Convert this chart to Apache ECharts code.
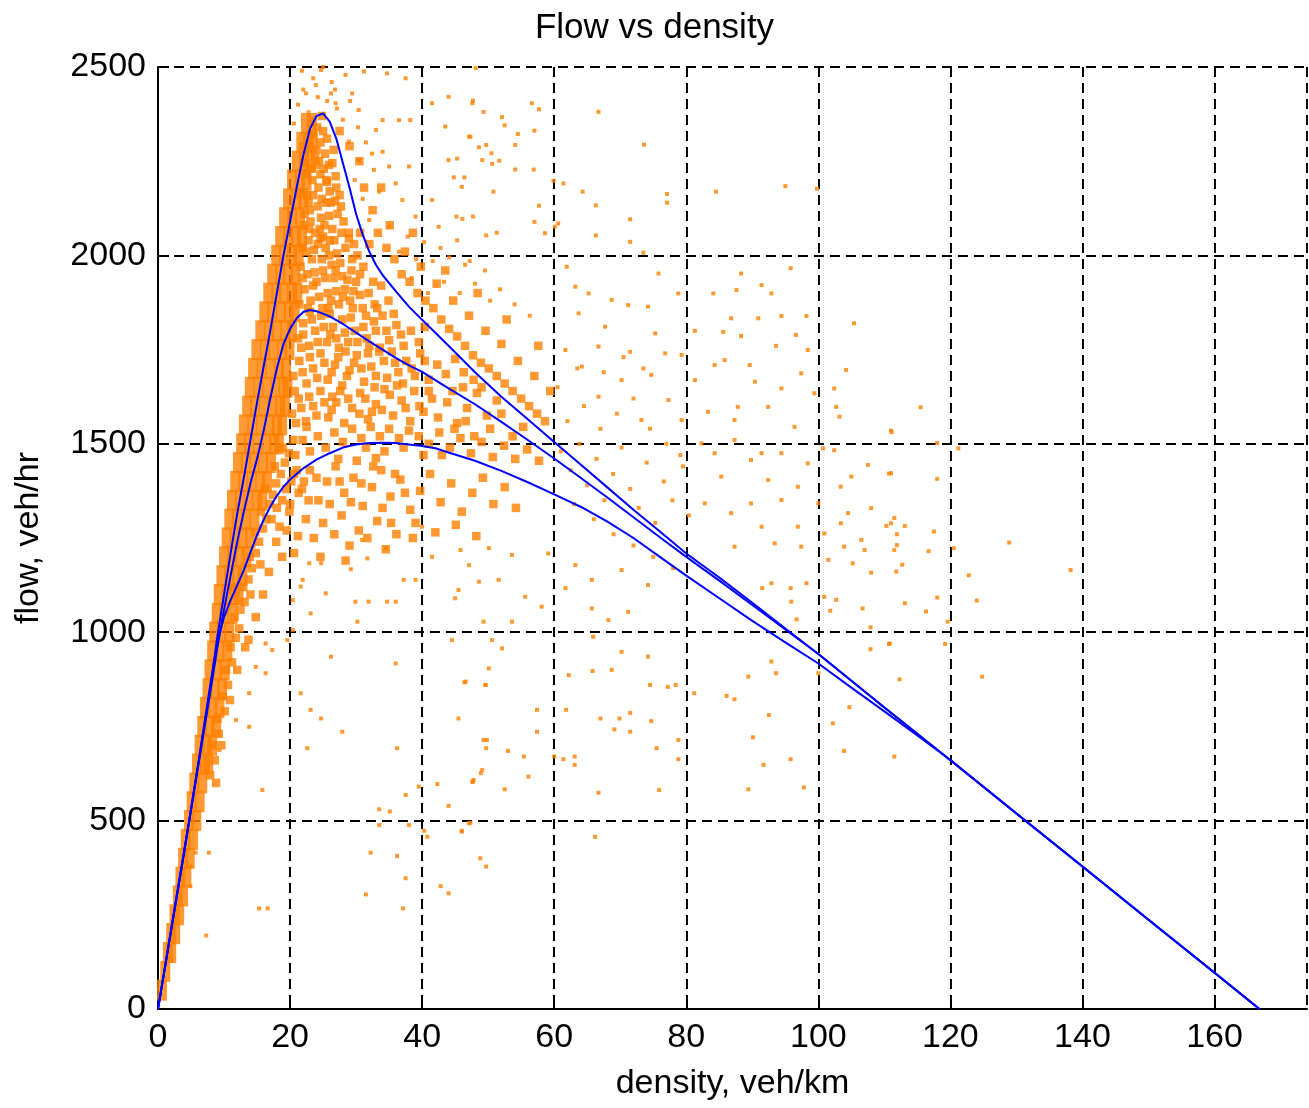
<!DOCTYPE html>
<html>
<head>
<meta charset="utf-8">
<script src="https://cdn.jsdelivr.net/npm/echarts@6/dist/echarts.min.js"></script>
<style>html,body{margin:0;padding:0;background:#fff}#c{width:1309px;height:1108px}</style>
</head>
<body>
<div id="c"></div>
<script>
const titleText = 'Flow vs density';
const xName = 'density, veh/km';
const yName = 'flow, veh/hr';

// dense core of the scatter (density, flow)
const scatterCore = [
[0.6,50],[1.1,100],[1.5,150],[2.0,150],[2.0,200],[2.6,200],[2.5,250],[3.2,250],[3.0,300],[3.8,300],[3.4,350],[4.3,350],[3.8,400],[4.8,400],[4.2,450],[5.3,450],[4.7,500],[5.8,500],[5.1,550],[6.3,550],[5.5,600],[6.7,600],[5.9,650],[7.1,650],[7.6,650],[6.3,700],[7.4,700],[8.2,700],[6.7,750],[7.8,750],[8.8,750],[7.1,800],[8.2,800],[9.3,800],[7.5,850],[8.6,850],[9.7,850],[7.8,900],[8.9,900],[10.1,900],[8.2,950],[9.3,950],[10.5,950],[8.5,1000],[9.6,1000],[10.8,1000],[8.9,1050],[10.0,1050],[11.3,1050],[9.2,1100],[10.4,1100],[11.6,1100],[12.2,1100],[9.6,1150],[10.8,1150],[12.0,1150],[12.8,1150],[10.0,1200],[11.2,1200],[12.4,1200],[13.4,1200],[10.4,1250],[11.6,1250],[12.8,1250],[14.0,1250],[10.8,1300],[12.0,1300],[13.3,1300],[14.6,1300],[11.2,1350],[12.4,1350],[13.7,1350],[15.0,1350],[15.8,1350],[11.7,1400],[12.9,1400],[14.2,1400],[15.5,1400],[16.5,1400],[12.1,1450],[13.3,1450],[14.6,1450],[15.9,1450],[17.1,1450],[12.6,1500],[13.8,1500],[15.1,1500],[16.4,1500],[17.6,1500],[18.3,1500],[13.0,1550],[14.3,1550],[15.6,1550],[16.9,1550],[18.0,1550],[18.8,1550],[13.5,1600],[14.7,1600],[16.0,1600],[17.3,1600],[18.5,1600],[19.2,1600],[13.9,1650],[15.2,1650],[16.5,1650],[17.8,1650],[19.0,1650],[19.6,1650],[14.4,1700],[15.7,1700],[17.0,1700],[18.3,1700],[19.4,1700],[14.9,1750],[16.2,1750],[17.5,1750],[18.8,1750],[19.9,1750],[15.5,1800],[16.8,1800],[18.0,1800],[19.3,1800],[20.3,1800],[16.1,1850],[17.3,1850],[18.6,1850],[19.8,1850],[20.7,1850],[16.7,1900],[17.9,1900],[19.1,1900],[20.3,1900],[21.1,1900],[17.3,1950],[18.5,1950],[19.7,1950],[20.8,1950],[17.9,2000],[19.1,2000],[20.3,2000],[21.3,2000],[18.5,2050],[19.7,2050],[20.9,2050],[21.8,2050],[19.1,2100],[20.3,2100],[21.5,2100],[19.7,2150],[20.9,2150],[22.0,2150],[20.3,2200],[21.5,2200],[22.5,2200],[21.0,2250],[22.1,2250],[23.0,2250],[21.7,2300],[22.7,2300],[23.4,2300],[22.4,2350],[23.3,2350]
];

// dense cloud around the core
const scatterDense = [
[7.9,620],[8.6,660],[8.3,700],[9.2,730],[9.0,770],[10.1,790],[9.8,830],[10.6,860],[10.3,900],[11.2,920],[11.0,960],[11.8,985],[12.3,1010],[11.6,1040],[12.5,1060],[13.1,1080],[12.9,1120],[13.7,1140],[14.2,1170],[13.9,1200],[14.8,1210],[15.3,1240],[14.7,1265],[15.9,1275],[16.4,1300],[15.6,1320],[16.9,1340],[17.4,1365],[16.2,1380],[17.9,1395],[18.6,1420],[17.7,1440],[19.2,1450],[19.8,1475],[18.9,1490],[20.5,1510],[13.2,960],[12.0,900],[10.9,820],[9.6,700],[8.8,600],[11.4,1120],[14.0,1100],[15.5,1180],
[17.2,1300],[18.0,1330],[18.8,1350],[19.4,1380],[20.2,1400],[21.0,1430],[18.4,1280],[19.9,1320],[21.3,1370],[22.1,1400],
[23.8,2260],[24.6,2300],[25.3,2270],[24.1,2340],[25.9,2240],[23.5,2320],
[22.6,2160],[23.4,2200],[24.3,2180],[25.1,2230],[26.0,2170],[26.9,2210],[27.5,2160],[23.9,2240],[25.6,2195],[24.8,2150],
[22.1,2080],[23.0,2120],[23.8,2060],[24.7,2100],[25.5,2140],[26.4,2070],[27.2,2110],[28.1,2090],[28.9,2060],[22.8,2140],[25.0,2050],[26.8,2145],
[21.6,1970],[22.4,2010],[23.3,1990],[24.2,2030],[25.0,1960],[25.9,2000],[26.7,2040],[27.6,1980],[28.4,2020],[29.3,1960],[30.2,2000],[31.1,1970],[23.7,1955],[26.3,1975],[28.9,2045],[24.6,2045],
[21.4,1870],[22.2,1910],[23.1,1880],[24.0,1930],[24.9,1860],[25.7,1900],[26.6,1940],[27.4,1870],[28.3,1910],[29.1,1880],[30.0,1930],[31.0,1860],[31.9,1900],[32.8,1870],[33.8,1920],[34.9,1880],[22.7,1860],[27.9,1945],[30.6,1895],
[21.2,1780],[22.0,1820],[22.9,1760],[23.8,1800],[24.7,1840],[25.6,1770],[26.5,1810],[27.4,1755],[28.3,1795],[29.2,1835],[30.2,1770],[31.1,1810],[32.0,1760],[33.0,1800],[34.0,1840],[35.0,1775],[36.1,1815],[37.2,1760],[38.3,1800],[39.5,1770],[40.4,1810],[26.0,1845],[33.6,1755],[29.8,1800],
[20.5,1680],[21.4,1720],[22.5,1660],[23.5,1700],[24.6,1740],[25.7,1670],[26.8,1710],[27.9,1655],[29.0,1695],[30.1,1735],[31.2,1665],[32.3,1705],[33.5,1745],[34.7,1675],[35.9,1715],[37.1,1660],[38.4,1700],[39.7,1740],[41.0,1670],[42.3,1710],[43.6,1685],[45.0,1725],[46.3,1690],[28.4,1745],[36.4,1690],
[20.3,1580],[21.3,1620],[22.4,1560],[23.5,1600],[24.6,1640],[25.8,1570],[27.0,1610],[28.2,1555],[29.4,1595],[30.6,1635],[31.8,1565],[33.0,1605],[34.3,1645],[35.6,1575],[36.9,1615],[38.2,1560],[39.6,1600],[41.0,1640],[42.4,1570],[43.8,1610],[45.3,1555],[46.8,1595],[48.3,1635],[49.8,1575],[51.3,1615],[26.4,1625],[32.4,1585],
[20.8,1470],[21.9,1510],[23.0,1480],[24.2,1520],[25.4,1490],[26.7,1530],[28.0,1505],[29.4,1540],[30.8,1515],[32.2,1545],[33.6,1520],[35.0,1540],[36.5,1515],[38.0,1535],[39.5,1520],[41.0,1500],[42.6,1530],[44.2,1490],[45.8,1515],[47.4,1475],[49.0,1505],[50.7,1465],[52.4,1495],[54.1,1460],[55.9,1485],[57.7,1455],[22.5,1545],[27.3,1460],[33.0,1462],
[20.6,1420],[21.8,1380],[23.0,1430],[24.3,1350],[25.6,1400],[26.9,1440],[28.2,1370],[29.6,1410],[31.0,1335],[32.4,1385],[33.8,1430],[35.2,1360],[36.7,1405],[38.2,1325],[39.7,1375],[41.2,1420],[42.8,1345],[44.4,1395],[46.0,1320],[47.6,1370],[49.2,1410],[50.8,1340],[52.5,1385],[54.2,1330],[22.4,1300],[25.0,1290],[27.8,1310],[30.4,1270],[33.2,1295],[36.1,1260],[39.0,1290],[42.0,1265],[45.1,1285],[48.2,1255],[20.0,1340],[23.6,1250],[29.0,1230],[34.5,1220],
[27.5,2330],[29.0,2290],[30.5,2250],[31.2,2180],[32.5,2120],[33.3,2060],[34.6,2020],[35.8,1990],[36.9,1950],[38.1,1930],[39.3,1900],[40.5,1880],[41.7,1860],[42.9,1830],[44.1,1805],[45.3,1785],[46.5,1760],[47.7,1735],[48.9,1715],[50.1,1700],[51.3,1680],[52.5,1660],[53.7,1640],[55.0,1620],[56.2,1600],[57.4,1580],[58.6,1560],[35.1,2080],[37.4,2010],[39.8,1970],[42.2,1925],[44.7,1880],[47.1,1840],[49.6,1800],[52.0,1765],[54.5,1720],[57.0,1680],[59.4,1640],[43.5,1960],[48.4,1900],[52.8,1830],[57.6,1760],[38.6,2060],[33.8,2180],
[20.9,1555],[21.7,1595],[22.9,1625],[24.0,1575],[25.2,1610],[26.3,1590],[27.6,1640],[28.8,1620],[20.7,1640],[21.9,1690],[23.0,1730],[24.1,1675],[25.2,1715],[26.3,1690],[27.3,1730],[28.6,1680],[29.7,1715],[21.7,1755],[23.3,1830],[24.2,1770],[25.1,1810],[26.1,1790],[27.9,1830],[28.8,1770],[21.9,1940],[23.5,1920],[24.4,1890],[25.3,1940],[26.2,1880],[27.0,1905],[28.7,1935],[29.6,1905],[22.8,2040],[23.6,2015],[25.4,2020],[27.1,2005],[29.7,2030],[23.1,2090],[24.2,2130],[25.9,2105],[27.7,2130],[22.5,2215],[24.6,2215],[26.4,2245],[23.0,2290],[25.0,2330],
[30.5,1580],[31.4,1620],[32.8,1650],[33.9,1590],[35.1,1630],[36.2,1655],[37.5,1595],[38.8,1640],[40.2,1585],[41.5,1620],[30.8,1700],[31.8,1740],[33.0,1680],[34.2,1720],[35.4,1745],[37.6,1720],[38.9,1680],[40.4,1720],[31.6,1780],[32.7,1825],[34.6,1800],[35.7,1845],[36.8,1790],[30.1,1455],[31.5,1490],[34.3,1480],[37.2,1490],[40.2,1470],[43.0,1470],[44.9,1540],[46.6,1560],[47.9,1520],[50.3,1540],[52.0,1580],[53.7,1520],[55.3,1545],[44.6,1640],[46.2,1650],[47.8,1670],[49.0,1650],
[21.2,1255],[22.8,1350],[24.0,1410],[26.0,1340],[27.5,1400],[29.2,1345],[30.8,1395],[32.6,1440],[34.0,1330],[35.9,1420],[37.4,1370],[24.6,1200],[26.7,1260],[28.4,1190],[31.7,1250],[35.3,1290],[38.6,1250],[17.9,1240],[18.8,1200],[16.8,1160],[15.9,1100],[14.8,1040],[13.7,980],[19.5,1270],[20.6,1210],
[22.0,2290],[24.0,2280],[25.6,2310],[23.2,2355],[24.8,2370],[22.3,2245],[23.3,2230],[24.4,2250],[25.5,2200],[26.6,2280],[21.6,2160],[22.2,2110],[23.5,2160],[24.5,2070],[26.2,2140],[27.0,2180],[21.9,2020],[22.9,2070],[25.2,2080],[26.0,2040],[27.8,2060],[22.6,1950],[24.8,1990],[26.9,1960],[28.0,1890],[29.4,1990],[30.6,1950],[22.0,1790],[23.0,1850],[25.8,1860],[27.0,1780],[29.5,1860],[31.5,1840],[32.6,1930],[33.2,1860],[30.6,2060],[32.0,2030]
];

// sparse points and outliers
const scatterSparse = [
[48.1,2497],[44.0,2421],[47.7,2411],[49.3,2381],[52.1,2367],[52.5,2345],[56.6,2404],[57.7,2388],[54.5,2322],[57.0,2331],[47.3,2315],[48.6,2287],[49.7,2293],[50.5,2271],[51.7,2251],[50.6,2243],[45.3,2257],[54.1,2293],[44.8,2207],[46.4,2207],[50.8,2169],[54.1,2228],[56.9,2228],[57.7,2132],[45.2,2103],[46.1,2097],[47.7,2103],[49.7,2053],[51.3,2060],[57.0,2089],[58.6,2059],[59.9,2198],[61.4,2191],[64.3,2169],[66.7,2381],[66.3,2133],[66.3,2053],[71.5,2096],[71.5,2036],[73.6,2294],[77.1,2163],[77.1,2140],[84.5,2169],[95.0,2184],[99.8,2177],[60.6,2085],[60.1,2076],[73.5,2007],[61.9,1970],
[75.8,1952],[78.8,1899],[88.3,1952],[95.8,1966],[91.4,1921],[92.9,1899],[84.1,1899],[87.6,1908],[94.4,1839],[98.2,1839],[105.4,1820],[90.9,1833],[86.8,1833],[81.3,1800],[85.6,1797],[88.3,1786],[96.6,1789],[98.4,1749],[93.6,1760],[104.2,1696],[97.4,1687],[89.6,1709],[84.3,1709],[85.8,1722],[76.8,1740],[79.3,1736],[74.7,1683],[81.3,1669],[90.4,1665],[94.4,1647],[102.4,1647],[102.7,1598],[99.4,1634],[92.4,1598],[87.8,1598],[83.3,1585],[77.3,1616],[73.2,1563],[79.3,1563],[87.3,1563],[96.4,1545],[111,1535],[103.2,1572],[66.7,1625],[70.2,1669],[71.5,1744],[67.7,1811],[63.7,1846],[65.2,1899],[63.2,1917],[68.7,1882],[71.2,1868],[74.2,1864],[66.7,1758],[64.2,1705],[61.7,1749],[75.3,1793],
[82.3,1501],[84.3,1475],[87.3,1510],[89.8,1457],[91.4,1475],[94.4,1475],[100.7,1488],[102.4,1483],[107.5,1444],[111,1422],[98.4,1448],[105,1413],[85.3,1413],[92.4,1404],[96.9,1386],[103.4,1386],[108,1329],[104.5,1316],[100,1342],[94.4,1351],[89.8,1342],[86.8,1316],[82.8,1342],[91.4,1280],[96.9,1280],[100.9,1262],[106.5,1245],[93.4,1236],[87.3,1227],[111,1289],[103.4,1289],[97.4,1227],
[61,1480],[62.5,1430],[63.8,1500],[65,1390],[66.4,1460],[67.6,1350],[68.9,1420],[70.2,1490],[71.5,1380],[72.8,1330],[74,1450],[75.3,1290],[76.6,1400],[77.9,1350],[79.1,1470],[80.4,1310],[62,1560],[64.5,1600],[67,1540],[69.5,1580],[72,1620],[74.5,1540],[77,1500],[79.5,1440],[63,1340],[66,1300],[69,1260],[72,1230],[75,1200],[78,1170],[60.5,1650],[63.5,1700],[67.5,1690],[70.5,1730],[73.5,1700],
[45.8,1218],[50.1,1223],[53.6,1205],[59.1,1209],[63.2,1178],[65.7,1139],[70.2,1165],[74.2,1125],[47.1,1178],[48.6,1134],[51.6,1139],[55.6,1094],[58.1,1068],[61.7,1117],[65.7,1063],[68.2,1032],[71.2,1054],[45.0,1090],[49.3,1028],[53.6,1028],[50.6,979],[52.1,957],[44.5,979],[50.1,904],[49.6,860],[46.4,867],[57.4,794],[57.4,736],[61.8,794],[62.2,886],[65.8,897],[68.7,900],[65.9,988],[70.2,948],[74.2,935],[74.5,860],[77.2,855],[78.4,860],[67.0,771],[69.9,771],[71.5,786],[69.1,742],[74.7,764],[78.8,714],[75.5,692],[78.8,663],[71.5,736],[49.3,714],[49.7,692],[53.0,685],[55.4,670],[48.9,626],[47.7,603],[56.1,617],[52.5,583],[60.0,670],[61.4,663],[63.1,670],[63.1,648],[66.7,574],[75.9,581],
[81.2,838],[86.1,831],[87.3,822],[89.4,882],[90.1,721],[91.7,648],[92.5,780],[89.4,583],[95.8,663],[97.8,588],[104.7,801],[102.2,758],[103.9,685],[111.5,670],[107.9,1013],[110.8,970],[107.9,955],[106.7,1063],[101.8,1057],[100.9,1094],[102.7,1086],[95.8,1117],[98.2,1130],[92.9,1130],[91.5,1117],[95.9,1081],[100,891],[93.6,891],[92.9,922],[96.7,1034],[101.5,1192],[105.2,1183],[103.9,1227],[107,1218],[111.5,1218],[108,1158],[111.8,1161],
[46.0,471],[66.2,457],[48.8,400],[49.7,378],[44.0,307],[47.1,493],
[115.5,1597],[111.1,1531],[118.0,1502],[121.2,1488],[110.7,1421],[118.0,1407],[111.5,1303],[110.3,1282],[113.1,1282],[111.9,1260],[117.5,1267],[111.9,1231],[116.7,1215],[120.5,1223],[128.9,1238],[112.7,1179],[122.8,1151],[138.2,1165],[118.0,1092],[113.1,1077],[124.0,1084],[116.3,1055],[119.6,1028],[110.7,969],[119.2,969],[112.3,875],[124.8,882],
[24.7,2492],[23.9,2452],[22.4,2430],[28.4,2479],[31.2,2488],[34.7,2483],[37.5,2470],[39.2,2501],[26.2,2430],[29.4,2430],[26.9,2404],[30.4,2386],[34.0,2359],[36.5,2359],[38.2,2359],[33.0,2333],[28.9,2302],[30.4,2253],[34.0,2275],[32.7,2227],[35.0,2236],[38.0,2236],[36.0,2191],[33.5,2169],[37.0,2147],[41.5,2147],[39.0,2103],[42.5,2076],[35.0,2076],[32.0,2094],[47.6,2404],[46.0,2182],[49.1,2253],[44.0,2253],[47.1,2315],[41.5,2404],[43.5,2342],
[36.5,2010],[37.8,2050],[39.1,1990],[40.3,2035],[41.6,1985],[42.8,2020],[44.1,1995],[45.3,2040],[46.5,1975],[38.4,1940],[40.9,1900],[43.3,1930],[45.7,1900],[48.0,1925],[50.3,1880],[47.2,1985],[49.5,1960],[51.8,1910],[54.0,1870],[56.3,1840],
[21.2,2400],[22.0,2440],[22.8,2380],[23.5,2470],[24.2,2420],[25.6,2410],[26.3,2460],[27.1,2390],[20.6,2350],[21.8,2490],[25.0,2500],[26.8,2440],[28.0,2360],[29.1,2410],[30.3,2340],[31.5,2300],[32.4,2270],[29.8,2200],[31.0,2150],
[31.7,1196],[29.2,1167],[25.4,1103],[29.9,1081],[31.9,1081],[34.7,1081],[36.0,1081],[39.0,1139],[37.2,1139],[22.9,1183],[24.7,1183],[21.9,1139],[20.4,1085],[23.1,1050],[30.2,1028],[36.0,917],[26.2,935],[21.6,838],[23.1,794],[24.7,771],[27.9,736],[22.6,692],[36.2,692],[30.9,1245],[34.5,1223],[40.0,1280],[41.5,1200],[45.5,1112],[46.6,869],[49.6,860],[49.8,714],[45.5,771],[47.8,608],[49.1,634],[19.6,979],[20.4,1006],[16.3,970],[17.3,953],[14.8,908],[13.8,838],[11.8,767],[9.3,687],[15.8,581],[13.8,749],[16.3,891],[21.6,1121],
[39.5,590],[42.3,597],[47.6,603],[37.5,568],[33.5,530],[35.1,524],[44.0,539],[33.5,488],[38.0,488],[40.3,473],[40.8,457],[47.3,494],[46.0,473],[32.2,415],[36.2,406],[37.5,347],[42.8,326],[31.5,304],[37.1,267],[15.3,267],[16.6,267],[7.3,195],[5.7,415],[7.7,415],[4.9,378],[4.9,326]
];

// model curves (density, flow)
const curveA = [[0,0],[1,105],[2,212],[3,320],[4,425],[5,530],[6,640],[7,750],[8,860],[9,990],[10,1100],[11,1210],[12,1315],[13,1410],[14,1510],[15,1610],[16,1705],[17,1800],[18,1900],[19,2000],[20,2090],[21,2180],[22,2265],[23,2335],[24,2370],[25,2377],[26,2355],[27,2310],[28,2245],[29,2180],[30,2110],[31,2055],[32,2010],[33,1975],[34,1948],[36,1905],[38,1864],[40,1829],[44,1760],[48,1690],[52,1625],[56,1565],[60,1505],[64,1445],[68,1385],[72,1325],[76,1267],[80,1209],[85,1145],[90,1078],[95,1010],[100,942],[110,800],[120,660],[130,519],[140,378],[150,237],[160,96],[166.8,0]];
const curveB = [[0,0],[2,210],[4,420],[6,635],[8,850],[9,960],[10,1060],[11,1150],[12,1240],[13,1320],[14,1395],[15,1460],[16,1535],[17,1620],[18,1700],[19,1765],[20,1805],[21,1833],[22,1850],[23,1855],[24,1852],[26,1838],[28,1818],[30,1795],[32,1772],[34,1750],[36,1728],[38,1708],[40,1691],[44,1647],[48,1605],[52,1558],[56,1510],[60,1461],[64,1410],[68,1358],[72,1305],[76,1252],[80,1200],[85,1137],[90,1072],[95,1007],[100,942],[110,800],[120,660],[130,519],[140,378],[150,237],[160,96],[166.8,0]];
const curveC = [[0,0],[2,210],[4,420],[6,640],[8,870],[9,975],[10,1040],[11,1085],[12,1125],[13,1165],[14,1212],[15,1258],[16,1298],[17,1333],[18,1362],[19,1386],[20,1405],[22,1435],[24,1458],[26,1475],[28,1490],[30,1498],[32,1502],[34,1503],[36,1502],[38,1498],[40,1494],[42,1488],[44,1477],[48,1455],[52,1428],[56,1398],[60,1366],[64,1333],[68,1294],[72,1250],[76,1200],[80,1150],[85,1090],[90,1030],[95,973],[100,917],[105,853],[110,790],[115,726],[120,661],[130,519],[140,378],[150,237],[160,96],[166.8,0]];

const xMin = 0, xMax = 174, xStep = 20;
const yMin = 0, yMax = 2500, yStep = 500;

const ORANGE = '#ff8000';
const BLUE = '#0000ff';
const FONT = 'Liberation Sans, Arial, sans-serif';

const chart = echarts.init(document.getElementById('c'), null, {renderer: 'canvas'});
chart.setOption({
  animation: false,
  backgroundColor: '#fff',
  title: {
    text: titleText, left: 'center', top: 6,
    textStyle: {fontFamily: FONT, fontSize: 35, fontWeight: 'normal', color: '#000'}
  },
  grid: {left: 158, top: 67, right: 2, bottom: 99, containLabel: false},
  xAxis: {
    type: 'value', min: xMin, max: xMax, interval: xStep,
    name: xName, nameLocation: 'middle', nameGap: 58,
    nameTextStyle: {fontFamily: FONT, fontSize: 34, color: '#000'},
    axisLine: {show: true, onZero: false, lineStyle: {color: '#000', width: 2}},
    axisTick: {show: true, inside: true, length: 11, lineStyle: {color: '#000', width: 2}},
    axisLabel: {fontFamily: FONT, fontSize: 34, color: '#000', margin: 12, showMaxLabel: false, formatter: v => String(v)},
    splitLine: {show: true, lineStyle: {color: '#000', width: 2, type: [10, 6]}}
  },
  yAxis: {
    type: 'value', min: yMin, max: yMax, interval: yStep,
    name: yName, nameLocation: 'middle', nameGap: 112,
    nameTextStyle: {fontFamily: FONT, fontSize: 34, color: '#000'},
    axisLine: {show: true, onZero: false, lineStyle: {color: '#000', width: 2}},
    axisTick: {show: true, inside: true, length: 11, lineStyle: {color: '#000', width: 2}},
    axisLabel: {fontFamily: FONT, fontSize: 34, color: '#000', margin: 12, formatter: v => String(v)},
    splitLine: {show: true, lineStyle: {color: '#000', width: 2, type: [10, 6]}}
  },
  series: [
    {type: 'scatter', data: scatterCore, symbol: 'rect', symbolSize: [10, 21], itemStyle: {color: ORANGE}, silent: true, z: 2},
    {type: 'scatter', data: scatterDense, symbol: 'rect', symbolSize: 8.5, itemStyle: {color: ORANGE}, silent: true, z: 2},
    {type: 'scatter', data: scatterSparse, symbol: 'rect', symbolSize: 4, itemStyle: {color: ORANGE}, silent: true, z: 2},
    {type: 'line', data: curveA, showSymbol: false, symbol: 'none', lineStyle: {color: BLUE, width: 2}, z: 3},
    {type: 'line', data: curveB, showSymbol: false, symbol: 'none', lineStyle: {color: BLUE, width: 2}, z: 3},
    {type: 'line', data: curveC, showSymbol: false, symbol: 'none', lineStyle: {color: BLUE, width: 2}, z: 3}
  ]
});
</script>
</body>
</html>
